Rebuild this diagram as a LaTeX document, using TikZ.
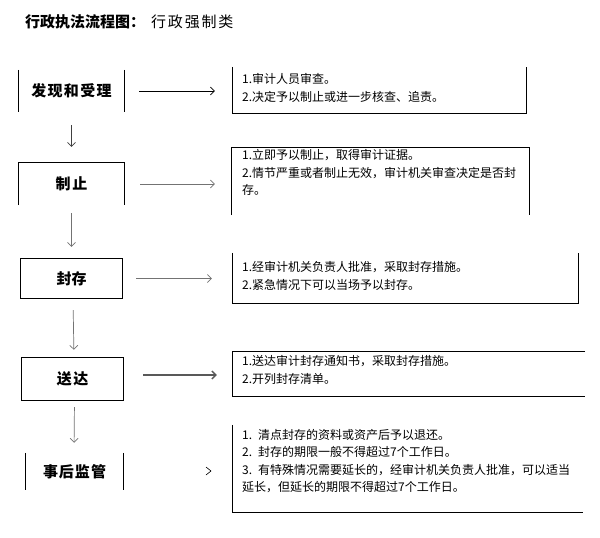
\documentclass[tikz,border=0pt]{standalone}
\usepackage{fontspec}
\setmainfont{Noto Sans CJK SC}
\usetikzlibrary{arrows.meta}
\tikzset{
  lbox/.style={inner sep=0pt, font=\fontsize{15}{18}\selectfont\bfseries},
  rbox/.style={inner sep=0pt},
  txt/.style={anchor=north west, inner sep=0pt, align=left, font=\fontsize{12}{17.2}\selectfont},
  edge/.style={line width=0.8pt, black},
  arr/.style={line width=0.7pt, -{Straight Barb[length=4pt,width=8pt]}},
  garr/.style={arr, draw=black!55},
}
\begin{document}
\begin{tikzpicture}[x=1pt,y=-1pt]
\useasboundingbox (0,0) rectangle (600,538);
% title
\node[anchor=west, inner sep=0pt, font=\fontsize{15}{18}\selectfont] (title) at (25,22) {{\bfseries 行政执法流程图：}\hspace{6pt}行\kern1.8pt 政\kern1.8pt 强\kern1.8pt 制\kern1.8pt 类};
% left boxes
\node[lbox, minimum width=105pt, minimum height=42pt] (b1) at (71.5,91) {发\kern1.3pt 现\kern1.3pt 和\kern1.3pt 受\kern1.3pt 理};
\node[lbox, minimum width=105pt, minimum height=42pt] (b2) at (71.5,184) {制\kern2pt 止};
\node[lbox, minimum width=101pt, minimum height=39pt] (b3) at (71.5,278.5) {封存};
\node[lbox, minimum width=101pt, minimum height=42pt] (b4) at (72.5,379) {送\kern1.5pt 达};
\node[lbox, minimum width=97pt, minimum height=37pt] (b5) at (74.5,471.5) {事\kern1pt 后\kern1pt 监\kern1pt 管};
% left box frames (partial, as in the reference)
\draw[edge] (b1.north west) -- (b1.south west);
\draw[edge] (b1.north east) -- (b1.south east);
\draw[edge] (b2.south west) -- (b2.north west) -- (b2.north east) -- (b2.south east);
\draw[edge] (b3.north west) rectangle (b3.south east);
\draw[edge] (b4.north west) rectangle (b4.south east);
\draw[edge] (b5.north west) -- (b5.south west);
\draw[edge] (b5.north east) -- (b5.south east);
% right boxes
\node[rbox, minimum width=293pt, minimum height=46pt] (r1) at (379.5,90) {};
\node[rbox, minimum width=297pt, minimum height=67pt] (r2) at (380.5,181.5) {};
\node[rbox, minimum width=345pt, minimum height=50pt] (r3) at (405.5,278) {};
\node[rbox, minimum width=352pt, minimum height=44pt] (r4) at (409,374) {};
\node[rbox, minimum width=350pt, minimum height=87pt] (r5) at (408,468.5) {};
\draw[edge] (r1.north west) -- (r1.south west) -- (r1.south east) -- (r1.north east);
\draw[edge] (r2.south west) -- (r2.north west) -- (r2.north east) -- (r2.south east);
\draw[edge] (r3.north west) -- (r3.south west) -- (r3.south east) -- (r3.north east);
\draw[edge] (r4.north east) -- (r4.north west) -- (r4.south west) -- (r4.south east);
\draw[edge] (r5.north west) -- (r5.south west) -- (r5.south east);
% right texts
\node[txt] (t1) at (242,73.5) {1.审计人员审查。\\2.决定予以制止或进一步核查、追责。};
\node[txt] (t2) at (242,149.5) {1.立即予以制止，取得审计证据。\\2.情节严重或者制止无效，审计机关审查决定是否封\\存。};
\node[txt] (t3) at (242,261.5) {1.经审计机关负责人批准，采取封存措施。\\2.紧急情况下可以当场予以封存。};
\node[txt] (t4) at (242,355.5) {1.送达审计封存通知书，采取封存措施。\\2.开列封存清单。};
\node[txt, font=\fontsize{12}{17.5}\selectfont] (t5) at (242,429) {\makebox[16pt][l]{1.}清点封存的资料或资产后予以退还。\\\makebox[16pt][l]{2.}封存的期限一般不得超过7个工作日。\\\makebox[16pt][l]{3.}有特殊情况需要延长的，经审计机关负责人批准，可以适当\\延长，但延长的期限不得超过7个工作日。};
% horizontal arrows
\draw[arr, black, shorten <=15pt, shorten >=18pt] (b1.east) -- (b1.east -| r1.west);
\draw[garr, shorten <=16pt, shorten >=17pt] (b2.east) -- (b2.east -| r2.west);
\draw[garr, shorten <=14pt, shorten >=21pt] (b3.east) -- (b3.east -| r3.west);
\draw[arr, draw=black!65, line width=1.3pt, shorten <=20pt, shorten >=16pt] ([yshift=4pt]b4.east) -- ([yshift=4pt]b4.east -| r4.west);
\coordinate (c5) at (211,471);
\draw[edge, line width=0.6pt] ([shift={(-5,-4)}]c5) -- (c5) -- ([shift={(-5,4)}]c5);
% vertical arrows
\draw[arr, draw=black!75, shorten <=13pt, shorten >=16pt] (b1.south) -- (b2.north);
\draw[garr, shorten <=8pt, shorten >=12pt] (b2.south) -- (b3.north);
\draw[garr, shorten <=12pt, shorten >=8pt] ([xshift=1.5pt]b3.south) -- ([xshift=1.5pt]b4.north);
\draw[garr, shorten <=7pt, shorten >=10pt] ([xshift=2pt]b4.south) -- ([xshift=-0.5pt]b5.north);
\end{tikzpicture}
\end{document}
